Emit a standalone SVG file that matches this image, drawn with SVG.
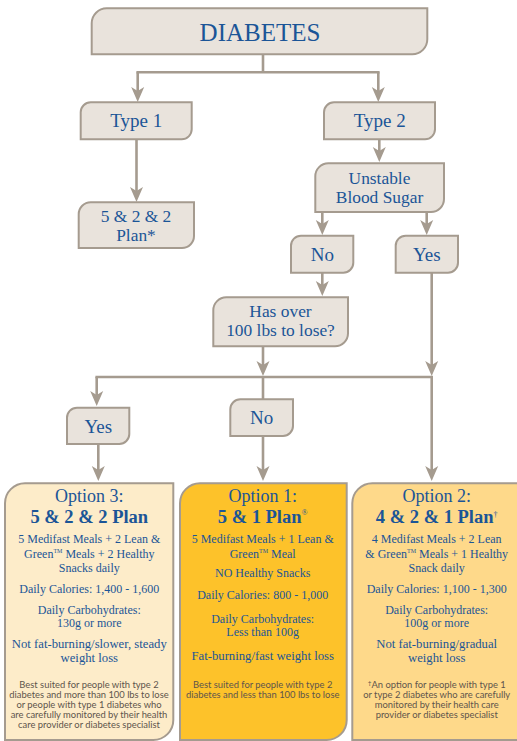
<svg xmlns="http://www.w3.org/2000/svg" width="517" height="741" viewBox="0 0 517 741">
<defs>
<marker id="ah" viewBox="0 -7 15 14" refX="10" refY="0" markerWidth="15" markerHeight="14" markerUnits="userSpaceOnUse" orient="auto">
<path d="M0,-6.5 L15,0 L0,6.5 L4,0 Z" fill="#a59b8f"/>
</marker>
</defs>
<style>
.node{fill:#e9e3dc;stroke:#a59b8f;stroke-width:2}
.opt{stroke:#a59b8f;stroke-width:2}
.lbl{font-family:"Liberation Serif",serif;fill:#1b5597;text-anchor:middle}
.n{font-size:19px}
.n2{font-size:17.4px}
.h{font-size:18px}
.hb{font-size:18.5px;font-weight:bold}
.b{font-size:12px}
.bl{font-size:12.7px}
.fn{font-family:Lato,"Liberation Sans",sans-serif;font-size:9.4px;fill:#5e554c;text-anchor:middle}
.c{fill:none;stroke:#a59b8f;stroke-width:2.6}
.tm{font-size:6px}
.sp{font-size:8px;font-weight:normal}
</style>
<rect width="517" height="741" fill="#ffffff"/>
<g id="connectors">
<path class="c" d="M263,54 V72.3 M136.4,72.3 H379.6"/>
<path class="c" d="M137.7,72.3 V97" marker-end="url(#ah)"/>
<path class="c" d="M378.3,72.3 V97" marker-end="url(#ah)"/>
<path class="c" d="M136.5,139.3 V197" marker-end="url(#ah)"/>
<path class="c" d="M379.3,139.3 V157" marker-end="url(#ah)"/>
<path class="c" d="M322.3,212 V230" marker-end="url(#ah)"/>
<path class="c" d="M426.7,212 V230" marker-end="url(#ah)"/>
<path class="c" d="M322.3,272.7 V291" marker-end="url(#ah)"/>
<path class="c" d="M263,346.3 V371" marker-end="url(#ah)"/>
<path class="c" d="M431.7,272.7 V371" marker-end="url(#ah)"/>
<path class="c" d="M95.4,377 H433"/>
<path class="c" d="M96.7,377 V401" marker-end="url(#ah)"/>
<path class="c" d="M263,377 V399.3"/>
<path class="c" d="M98.3,444 V476" marker-end="url(#ah)"/>
<path class="c" d="M263,436 V476" marker-end="url(#ah)"/>
<path class="c" d="M431.7,377 V476" marker-end="url(#ah)"/>
</g>
<g id="diabetes">
<path class="node" d="M91.7,23.3 A15,15 0 0 1 106.7,8.3 H427.3 V39.3 A15,15 0 0 1 412.3,54.3 H91.7 Z"/>
<text class="lbl" x="260" y="41" font-size="25">DIABETES</text>
</g>
<g id="type1">
<path class="node" d="M80.7,112.3 A10,10 0 0 1 90.7,102.3 H191.7 V129.3 A10,10 0 0 1 181.7,139.3 H80.7 Z"/>
<text class="lbl n" x="136.3" y="127.3">Type 1</text>
</g>
<g id="type2">
<path class="node" d="M324,112.3 A10,10 0 0 1 334,102.3 H435 V129.3 A10,10 0 0 1 425,139.3 H324 Z"/>
<text class="lbl n" x="379.7" y="127.3">Type 2</text>
</g>
<g id="plan522">
<path class="node" d="M78.7,214.3 A12,12 0 0 1 90.7,202.3 H194 V236 A12,12 0 0 1 182,248 H78.7 Z"/>
<text class="lbl n2" x="136" y="222">5 &amp; 2 &amp; 2</text>
<text class="lbl n2" x="136" y="241.4">Plan*</text>
</g>
<g id="unstable">
<path class="node" d="M315.3,176.3 A13,13 0 0 1 328.3,163.3 H444 V199 A13,13 0 0 1 431,212 H315.3 Z"/>
<text class="lbl n2" x="379.5" y="183.5">Unstable</text>
<text class="lbl n2" x="379.5" y="202.9">Blood Sugar</text>
</g>
<g id="no1">
<path class="node" d="M291,245.7 A10,10 0 0 1 301,235.7 H353.3 V262.7 A10,10 0 0 1 343.3,272.7 H291 Z"/>
<text class="lbl n" x="322.3" y="260.7">No</text>
</g>
<g id="yes1">
<path class="node" d="M395.7,245.7 A10,10 0 0 1 405.7,235.7 H458 V262.7 A10,10 0 0 1 448,272.7 H395.7 Z"/>
<text class="lbl n" x="426.8" y="260.7">Yes</text>
</g>
<g id="hasover">
<path class="node" d="M213.3,310.3 A13,13 0 0 1 226.3,297.3 H348 V333.3 A13,13 0 0 1 335,346.3 H213.3 Z"/>
<text class="lbl n2" x="280.5" y="316.8">Has over</text>
<text class="lbl n2" x="280.5" y="336.2">100 lbs to lose?</text>
</g>
<g id="yes2">
<path class="node" d="M67,417.7 A10,10 0 0 1 77,407.7 H129.3 V434 A10,10 0 0 1 119.3,444 H67 Z"/>
<text class="lbl n" x="98.3" y="432.7">Yes</text>
</g>
<g id="no2">
<path class="node" d="M230.3,409.3 A10,10 0 0 1 240.3,399.3 H293 V426 A10,10 0 0 1 283,436 H230.3 Z"/>
<text class="lbl n" x="261.7" y="424">No</text>
</g>
<g id="option3">
<path class="opt" fill="#fdecc9" d="M5,503.3 A20,20 0 0 1 25,483.3 H173.3 V720 A20,20 0 0 1 153.3,740 H5 Z"/>
<text class="lbl h" x="89.3" y="501.7">Option 3:</text>
<text class="lbl hb" x="89.3" y="522.7">5 &amp; 2 &amp; 2 Plan</text>
<text class="lbl b" x="89.3" y="543.3">5 Medifast Meals + 2 Lean &amp;</text>
<text class="lbl b" x="89.3" y="557.7">Green<tspan class="tm" dy="-4.5">TM</tspan><tspan dy="4.5"> Meals + 2 Healthy</tspan></text>
<text class="lbl b" x="89.3" y="571.7">Snacks daily</text>
<text class="lbl b" x="89.3" y="593.3">Daily Calories: 1,400 - 1,600</text>
<text class="lbl b" x="89.3" y="614">Daily Carbohydrates:</text>
<text class="lbl b" x="89.3" y="626.5">130g or more</text>
<text class="lbl bl" x="89.3" y="648.3">Not fat-burning/slower, steady</text>
<text class="lbl bl" x="89.3" y="661.7">weight loss</text>
<text class="fn" x="89" y="688.3">Best suited for people with type 2</text>
<text class="fn" x="89" y="698">diabetes and more than 100 lbs to lose</text>
<text class="fn" x="89" y="707.8">or people with type 1 diabetes who</text>
<text class="fn" x="89" y="717.7">are carefully monitored by their health</text>
<text class="fn" x="89" y="727.6">care provider or diabetes specialist</text>
</g>
<g id="option1">
<path class="opt" fill="#fdc22a" d="M180,503.3 A20,20 0 0 1 200,483.3 H346.7 V720 A20,20 0 0 1 326.7,740 H180 Z"/>
<text class="lbl h" x="262.7" y="501.7">Option 1:</text>
<text class="lbl hb" x="262.7" y="522.7">5 &amp; 1 Plan<tspan class="sp" dy="-8">®</tspan></text>
<text class="lbl b" x="262.7" y="543.3">5 Medifast Meals + 1 Lean &amp;</text>
<text class="lbl b" x="262.7" y="557.7">Green<tspan class="tm" dy="-4.5">TM</tspan><tspan dy="4.5"> Meal</tspan></text>
<text class="lbl b" x="262.7" y="576.7">NO Healthy Snacks</text>
<text class="lbl b" x="262.7" y="599">Daily Calories: 800 - 1,000</text>
<text class="lbl b" x="262.7" y="622.7">Daily Carbohydrates:</text>
<text class="lbl b" x="262.7" y="636">Less than 100g</text>
<text class="lbl bl" x="262.7" y="660">Fat-burning/fast weight loss</text>
<text class="fn" x="262.7" y="688.3">Best suited for people with type 2</text>
<text class="fn" x="262.7" y="698.3">diabetes and less than 100 lbs to lose</text>
</g>
<g id="option2">
<path class="opt" fill="#fed98a" d="M352.3,503.3 A20,20 0 0 1 372.3,483.3 H530 V740 H352.3 Z"/>
<text class="lbl h" x="436.7" y="501.7">Option 2:</text>
<text class="lbl hb" x="436.7" y="522.7">4 &amp; 2 &amp; 1 Plan<tspan class="sp" dy="-6">†</tspan></text>
<text class="lbl b" x="436.7" y="543.3">4 Medifast Meals + 2 Lean</text>
<text class="lbl b" x="436.7" y="557.7">&amp; Green<tspan class="tm" dy="-4.5">TM</tspan><tspan dy="4.5"> Meals + 1 Healthy</tspan></text>
<text class="lbl b" x="436.7" y="571.7">Snack daily</text>
<text class="lbl b" x="436.7" y="593.3">Daily Calories: 1,100 - 1,300</text>
<text class="lbl b" x="436.7" y="614">Daily Carbohydrates:</text>
<text class="lbl b" x="436.7" y="626.5">100g or more</text>
<text class="lbl bl" x="436.7" y="648.3">Not fat-burning/gradual</text>
<text class="lbl bl" x="436.7" y="661.7">weight loss</text>
<text class="fn" x="436.7" y="688.3"><tspan font-size="6.5" dy="-3">†</tspan><tspan dy="3">An option for people with type 1</tspan></text>
<text class="fn" x="436.7" y="698">or type 2 diabetes who are carefully</text>
<text class="fn" x="436.7" y="707.8">monitored by their health care</text>
<text class="fn" x="436.7" y="717.7">provider or diabetes specialist</text>
</g>
</svg>
